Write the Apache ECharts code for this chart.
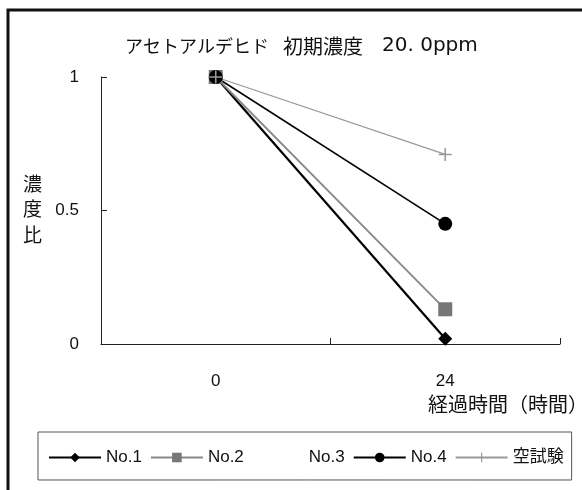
<!DOCTYPE html>
<html><head><meta charset="utf-8">
<script src="https://cdn.jsdelivr.net/npm/echarts@6/dist/echarts.min.js"></script>
<style>html,body{margin:0;padding:0;background:#fff}#c{width:582px;height:490px}</style>
</head><body><div id="c"></div>
<script>
var categories = ['0', '24'];
var no1 = [1, 0.02];
var no2 = [1, 0.13];
var no3 = [];
var no4 = [1, 0.45];
var blank = [1, 0.71];
var yTicks = [0, 0.5, 1];
var titleParts = ['アセトアルデヒド', '初期濃度', '20. 0ppm'];
var yName = '濃\n度\n比';
var xName = '経過時間（時間）';
var legendNames = ['No.1', 'No.2', 'No.3', 'No.4', '空試験'];

var FONT = '"Liberation Sans", "Noto Sans CJK JP", sans-serif';
var JP = '"Noto Sans CJK JP", "Liberation Sans", sans-serif';
var plus = 'path://M4.4,0h1.2v10h-1.2z M0,4.4h10v1.2h-10z';

var chart = echarts.init(document.getElementById('c'));
chart.setOption({
  animation: false,
  backgroundColor: '#fff',
  title: {
    text: '{k|' + titleParts[0] + '}{s| }{j|' + titleParts[1] + '}{s2| }{n|' + titleParts[2] + '}',
    left: 120, top: 31,
    textStyle: {
      fontWeight: 'normal',
      rich: {
        k: { fontFamily: JP, fontSize: 18, fontWeight: 'normal', color: '#111' },
        s: { fontFamily: FONT, fontSize: 14, width: 14, color: '#111' },
        s2: { fontFamily: FONT, fontSize: 14, width: 19, color: '#111' },
        j: { fontFamily: JP, fontSize: 20, fontWeight: 'normal', color: '#111' },
        n: { fontFamily: '"DejaVu Sans", sans-serif', fontSize: 20, fontWeight: 'normal', color: '#111' }
      }
    }
  },
  grid: { left: 101, right: 22, top: 77, bottom: 146 },
  xAxis: { type: 'category', data: categories, boundaryGap: true,
    axisLine: { lineStyle: { color: '#222', width: 1 } },
    axisTick: { show: true, inside: true, length: 6, lineStyle: { color: '#222', width: 1 } },
    axisLabel: { margin: 29, fontSize: 17, color: '#111', fontFamily: FONT } },
  yAxis: { type: 'value', min: 0, max: 1, interval: 0.5,
    splitLine: { show: false },
    axisLine: { show: true, lineStyle: { color: '#222', width: 1 } },
    axisTick: { show: true, inside: true, length: 6, lineStyle: { color: '#222', width: 1 } },
    axisLabel: { margin: 22, fontSize: 17, color: '#111', fontFamily: FONT,
      formatter: function (v) { return yTicks.indexOf(v) >= 0 ? String(v) : ''; } } },
  legend: { left: 38, top: 432, padding: [17, 8, 14, 10], itemGap: 8, itemWidth: 52, itemHeight: 12,
    borderColor: '#555', borderWidth: 1,
    textStyle: { fontFamily: FONT, fontSize: 17, color: '#111' },
    data: legendNames },
  graphic: [
    { type: 'rect', shape: { x: 8, y: 10, width: 620, height: 520 }, style: { fill: 'none', stroke: '#111', lineWidth: 3 } },
    { type: 'text', left: 23, top: 171, style: { text: yName, font: '19px ' + JP, fill: '#111', lineHeight: 25.5 } },
    { type: 'text', left: 428, top: 394, style: { text: xName, font: '20px ' + JP, fill: '#111' } }
  ],
  series: [
    { name: legendNames[0], type: 'line', data: no1, symbol: 'diamond', symbolSize: 14,
      lineStyle: { color: '#000', width: 2.2 }, itemStyle: { color: '#000' } },
    { name: legendNames[1], type: 'line', data: no2, symbol: 'rect', symbolSize: 14,
      lineStyle: { color: '#888', width: 1.8 }, itemStyle: { color: '#777' } },
    { name: legendNames[2], type: 'line', data: no3, symbol: 'none',
      lineStyle: { color: 'rgba(0,0,0,0)', width: 0 }, itemStyle: { color: 'rgba(0,0,0,0)' } },
    { name: legendNames[3], type: 'line', data: no4, symbol: 'circle', symbolSize: 14,
      lineStyle: { color: '#000', width: 1.6 }, itemStyle: { color: '#000' } },
    { name: legendNames[4], type: 'line', data: blank, symbol: plus, symbolSize: 13,
      lineStyle: { color: '#999', width: 1.3 }, itemStyle: { color: '#999' } }
  ]
});
</script></body></html>
